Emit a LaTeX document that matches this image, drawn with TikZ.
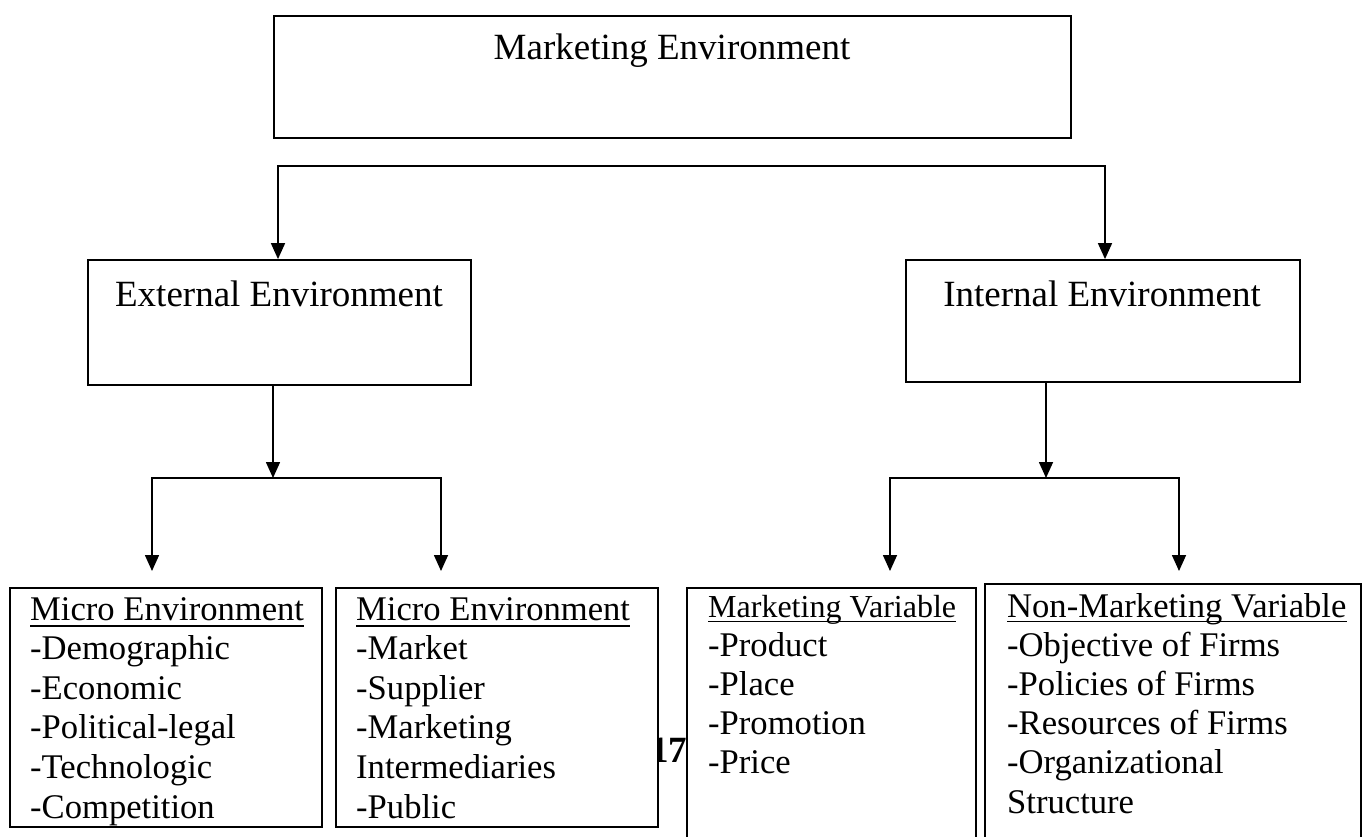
\documentclass[tikz,border=0pt]{standalone}
\usepackage{fontspec}
\setmainfont{Liberation Serif}
\usetikzlibrary{arrows.meta}
\begin{document}
\begin{tikzpicture}[x=1pt,y=-1pt,
  box/.style={draw, line width=1.8pt, fill=white, inner sep=0pt},
  conn/.style={line width=1.6pt},
  arr/.style={conn, -{Triangle[width=14pt,length=16pt]}},
  title/.style={anchor=base, inner sep=0pt, font=\fontsize{37}{40}\selectfont},
  item/.style={anchor=base west, inner sep=0pt, font=\fontsize{34.6}{39.6}\selectfont},
  smallitem/.style={anchor=base west, inner sep=0pt, font=\fontsize{32}{39}\selectfont},
  uline/.style={line width=1.5pt}]
\path[use as bounding box, fill=white] (0,0) rectangle (1364,836);

% page number sitting between the lower boxes
\node[anchor=base west, inner sep=0pt, font=\bfseries\fontsize{37}{40}\selectfont] (pg) at (650,762) {17};

% boxes
\node[box, minimum width=797, minimum height=122] (top) at (672.5,77) {};
\node[box, minimum width=383, minimum height=125] (ext) at (279.5,322.5) {};
\node[box, minimum width=394, minimum height=122] (int) at (1103,321) {};
\node[box, minimum width=312, minimum height=239] (b1) at (166,707.5) {};
\node[box, minimum width=322, minimum height=239] (b2) at (497,707.5) {};
\node[box, minimum width=289, minimum height=272] (b3) at (831.5,724) {};
\node[box, minimum width=376, minimum height=276] (b4) at (1173,722) {};

% box titles
\node[title] (topT) at (672,59) {Marketing Environment};
\node[title] (extT) at (279,306) {External Environment};
\node[title] (intT) at (1102,306) {Internal Environment};

% lists
\node[item] (h1) at (30,620) {Micro Environment};
\foreach \t [count=\i] in {-Demographic,-Economic,-Political-legal,-Technologic,-Competition}
  \node[item] (b1l\i) at (30,{620+39.6*\i}) {\t};
\node[item] (h2) at (356,620) {Micro Environment};
\foreach \t [count=\i] in {-Market,-Supplier,-Marketing,Intermediaries,-Public}
  \node[item] (b2l\i) at (356,{620+39.6*\i}) {\t};
\node[smallitem] (h3) at (708,617) {Marketing Variable};
\foreach \t [count=\i] in {-Product,-Place,-Promotion,-Price}
  \node[item] (b3l\i) at (708,{617+39.2*\i}) {\t};
\node[item] (h4) at (1007,617) {Non-Marketing Variable};
\foreach \t [count=\i] in {-Objective of Firms,-Policies of Firms,-Resources of Firms,-Organizational,Structure}
  \node[item] (b4l\i) at (1007,{617+39.2*\i}) {\t};

% heading underlines
\foreach \h in {h1,h2}
  \draw[uline] ([yshift=-6pt]\h.base west) -- ([yshift=-6pt]\h.base east);
\foreach \h in {h3,h4}
  \draw[uline] ([yshift=-4.5pt]\h.base west) -- ([yshift=-4.5pt]\h.base east);

% first split
\coordinate (sL) at (278,166);
\coordinate (sR) at (1105,166);
\coordinate (sM) at (691,166);
\draw[arr] (sM) -| (ext.north -| sL);
\draw[arr] (sM) -| (int.north -| sR);

% external branch
\coordinate (eJ) at (273,478);
\coordinate (eL) at (152,571);
\coordinate (eR) at (441,571);
\draw[arr] (ext.south -| eJ) -- (eJ);
\draw[arr] (eJ) -| (eL);
\draw[arr] (eJ) -| (eR);

% internal branch
\coordinate (iJ) at (1046,478);
\coordinate (iL) at (890,571);
\coordinate (iR) at (1179,571);
\draw[arr] (int.south -| iJ) -- (iJ);
\draw[arr] (iJ) -| (iL);
\draw[arr] (iJ) -| (iR);
\end{tikzpicture}
\end{document}
